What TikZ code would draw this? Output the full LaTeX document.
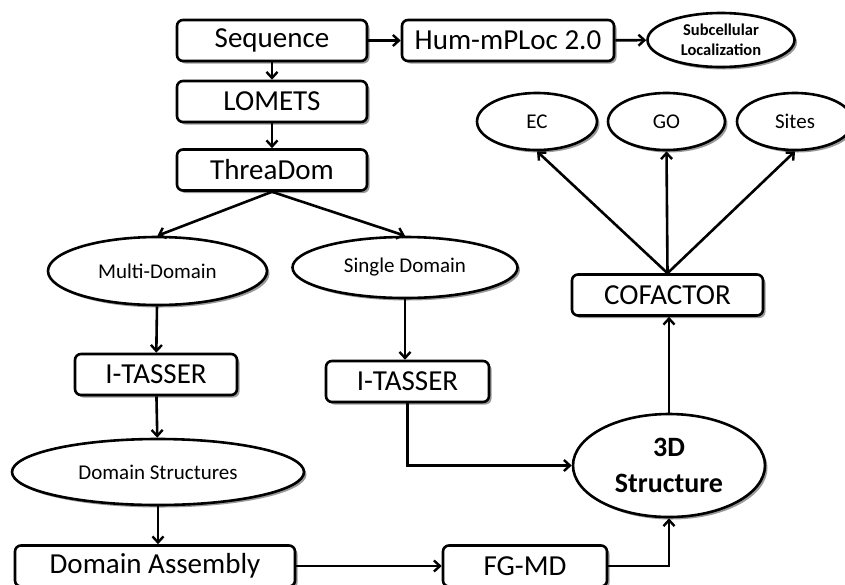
\documentclass[tikz,border=0pt]{standalone}
\usepackage{fontspec}
\setmainfont{Carlito}
\usetikzlibrary{arrows.meta,shadows,shapes.geometric}

\tikzset{
  shade/.style={drop shadow={shadow xshift=2.5pt,shadow yshift=-2.5pt,fill=black,opacity=0.4}},
  stepbox/.style={draw,line width=2.6pt,rounded corners=6pt,fill=white,shade,
    minimum height=41pt,inner sep=0pt,font=\fontsize{29}{32}\selectfont},
  oval/.style={draw,ellipse,line width=2.6pt,fill=white,shade,inner sep=0pt,
    font=\fontsize{21}{24}\selectfont},
  link/.style={line width=2.6pt,-{Straight Barb[length=6pt,width=11pt,line width=2.4pt]}},
}

\begin{document}
\begin{tikzpicture}[x=1pt,y=-1pt]
\clip (0,0) rectangle (845,584);
\fill[white] (0,0) rectangle (845,584);

% main pipeline boxes
\node[stepbox,minimum width=190pt] (seq) at (272,40.5) {Sequence};
\node[stepbox,minimum width=212pt] (hum) at (508,40.5) {Hum-mPLoc 2.0};
\node[stepbox,minimum width=190pt] (lom) at (272,101.5) {LOMETS};
\node[stepbox,minimum width=190pt] (thr) at (272,170) {ThreaDom};
\node[stepbox,minimum width=162pt] (it1) at (156,374.5) {I-TASSER};
\node[stepbox,minimum width=163pt] (it2) at (407.5,381.5) {I-TASSER};
\node[stepbox,minimum width=191pt] (cof) at (667.5,295) {COFACTOR};
\node[stepbox,minimum width=280pt] (asm) at (155,566) {Domain Assembly};
\node[stepbox,minimum width=164pt] (fg) at (525,566) {FG-MD};

% ellipses
\node[oval,minimum width=147pt,minimum height=54pt,align=center,
  font=\fontsize{16.5}{20}\bfseries\selectfont] (sub) at (721,40) {Subcellular\\Localization};
\node[oval,minimum width=120pt,minimum height=57pt] (ec) at (537,121.5) {EC};
\node[oval,minimum width=117pt,minimum height=57pt] (go) at (666.5,121.5) {GO};
\node[oval,minimum width=116pt,minimum height=57pt] (sites) at (795,121.5) {Sites};
\node[oval,minimum width=219pt,minimum height=68pt] (md) at (157.5,271) {Multi-Domain};
\node[oval,minimum width=225pt,minimum height=61pt] (sd) at (405,267.5) {Single Domain};
\node[oval,minimum width=292pt,minimum height=66pt] (ds) at (158,472) {Domain Structures};
\node[oval,minimum width=192pt,minimum height=103pt,align=center,
  font=\fontsize{28}{36}\bfseries\selectfont] (td) at (669,465.5) {3D\\Structure};

% connectors
\draw[link] (seq) -- (hum);
\draw[link] (hum) -- (sub);
\draw[link] (seq) -- (lom);
\draw[link] (lom) -- (thr);
\draw[link] (thr.south) -- (md.north);
\draw[link] (thr.south) -- (sd.north);
\draw[link] (md) -- (it1);
\draw[link] (it1) -- (ds);
\draw[link] (ds.south) -- (ds.south |- asm.north);
\draw[link] (asm) -- (fg);
\draw[link] (fg.east) -| (td.south);
\draw[link] (sd) -- (sd.south |- it2.north);
\draw[link] (it2.south) |- (td.west);
\draw[link] (td.north) -- (td.north |- cof.south);
\draw[link] (cof.north) -- (ec.south);
\draw[link] (cof.north) -- (go.south);
\draw[link] (cof.north) -- (sites.south);
\end{tikzpicture}
\end{document}
